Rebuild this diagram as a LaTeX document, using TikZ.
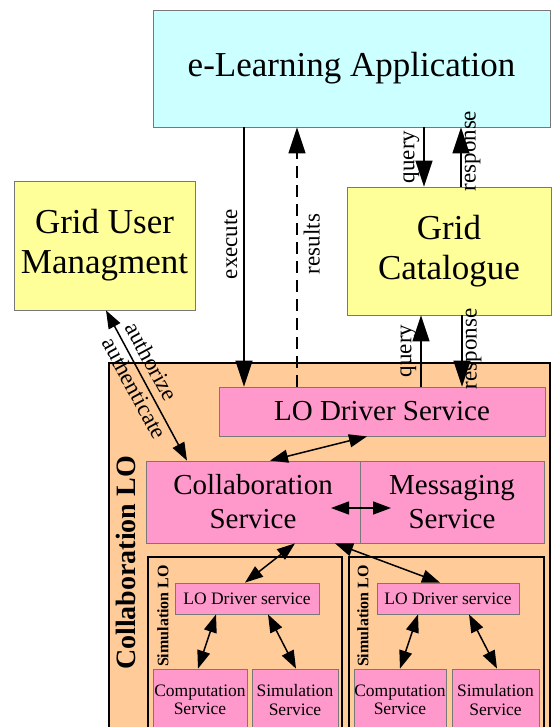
\documentclass[tikz,border=0pt]{standalone}
\usepackage{fontspec}
\setmainfont{Liberation Serif}
\usetikzlibrary{arrows.meta}
\definecolor{appc}{RGB}{204,255,255}
\definecolor{yelc}{RGB}{255,255,153}
\definecolor{orac}{RGB}{255,204,153}
\definecolor{pinc}{RGB}{255,153,204}
\definecolor{boxgray}{RGB}{120,120,120}
\begin{document}
\begin{tikzpicture}[x=1pt,y=-1pt,
  box/.style={draw=boxgray, line width=0.8pt, inner sep=0pt, align=center},
  big/.style={font=\fontsize{35}{40}\selectfont},
  mid/.style={font=\fontsize{29}{34}\selectfont},
  small/.style={font=\fontsize{17.5}{18.5}\selectfont},
  lbl/.style={font=\fontsize{23}{26}\selectfont, inner sep=4pt},
  cont/.style={draw=black, line width=2pt, fill=orac, inner sep=0pt},
  arr/.style={line width=1.5pt, -{Triangle[length=26pt,width=17pt]}},
  darr/.style={line width=1.5pt, {Triangle[length=18pt,width=13pt]}-{Triangle[length=18pt,width=13pt]}}]
\path[use as bounding box] (0,0) rectangle (552,727);
\clip (0,0) rectangle (552,727);

% top boxes
\node[box, fill=appc, big, minimum width=397pt, minimum height=117pt] (app) at (351.5,68.5) {e-Learning Application};
\node[box, fill=yelc, big, minimum width=181pt, minimum height=129pt] (gum) at (104.5,245.5) {Grid User\\Managment};
\node[box, fill=yelc, big, minimum width=204pt, minimum height=128pt] (gcat) at (449,251) {Grid\\Catalogue};

% Collaboration LO container
\node[cont, minimum width=441pt, minimum height=380pt] (clo) at (329.5,553) {};
\node[font=\bfseries\fontsize{28}{30}\selectfont, rotate=90] (clolbl) at (126,563) {Collaboration LO};

\node[box, fill=pinc, mid, minimum width=326pt, minimum height=49pt] (lod) at (382,411.5) {LO Driver Service};
\node[box, fill=pinc, mid, minimum width=214pt, minimum height=82pt] (colsvc) at (253,502) {Collaboration\\Service};
\node[box, fill=pinc, mid, minimum width=184pt, minimum height=82pt] (msg) at (452,502) {Messaging\\Service};

% Simulation LO containers
\node[cont, minimum width=194pt, minimum height=185pt] (simL) at (245,649.5) {};
\node[cont, minimum width=195pt, minimum height=185pt] (simR) at (446.5,649.5) {};
\node[font=\bfseries\fontsize{16}{18}\selectfont, rotate=90] (simLlbl) at (163,616) {Simulation LO};
\node[font=\bfseries\fontsize{16}{18}\selectfont, rotate=90] (simRlbl) at (363,616) {Simulation LO};

\node[box, fill=pinc, small, minimum width=144pt, minimum height=31pt] (lodL) at (247,598.5) {LO Driver service};
\node[box, fill=pinc, small, minimum width=142pt, minimum height=31pt] (lodR) at (448,598.5) {LO Driver service};
\node[box, fill=pinc, small, minimum width=94pt, minimum height=62pt] (compL) at (200,700) {Computation\\Service};
\node[box, fill=pinc, small, minimum width=86pt, minimum height=62pt] (simsL) at (295,700) {Simulation\\Service};
\node[box, fill=pinc, small, minimum width=92pt, minimum height=62pt] (compR) at (400,700) {Computation\\Service};
\node[box, fill=pinc, small, minimum width=87pt, minimum height=62pt] (simsR) at (495.5,700) {Simulation\\Service};

% x positions for connectors
\coordinate (xe) at (244,0);
\coordinate (xr) at (297,0);
\coordinate (xq1) at (424,0);
\coordinate (xr1) at (461,0);
\coordinate (xq2) at (421,0);
\coordinate (xr2) at (462,0);
\coordinate (au1) at (106,0);
\coordinate (au2) at (187,0);
\coordinate (l1) at (367,0);
\coordinate (l2) at (270,0);
\coordinate (m1) at (331,0);
\coordinate (m2) at (391,0);
\coordinate (myy) at (0,508);
\coordinate (c1) at (295,0);
\coordinate (c2) at (245,0);
\coordinate (c3) at (335,0);
\coordinate (c4) at (440,0);
\coordinate (d1) at (216,0);
\coordinate (d2) at (198,0);
\coordinate (d3) at (268,0);
\coordinate (d4) at (296,0);
\coordinate (e1) at (418,0);
\coordinate (e2) at (400,0);
\coordinate (e3) at (469,0);
\coordinate (e4) at (497,0);

% main vertical connectors
\draw[arr] (app.south -| xe) -- node[lbl, rotate=90, above, pos=0.45, inner sep=6pt] {execute} (lod.north -| xe);
\draw[arr, dash pattern=on 12pt off 7pt] (lod.north -| xr) -- node[lbl, rotate=90, below, pos=0.55, inner sep=6pt] {results} (app.south -| xr);
\draw[arr] (app.south -| xq1) -- node[lbl, rotate=90, above, pos=0.5] {query} (gcat.north -| xq1);
\draw[arr] (gcat.north -| xr1) -- node[lbl, rotate=90, below, pos=0.6, inner sep=3pt] {response} (app.south -| xr1);
\draw[arr] (lod.north -| xq2) -- node[lbl, rotate=90, above, pos=0.5] {query} (gcat.south -| xq2);
\draw[arr] (gcat.south -| xr2) -- node[lbl, rotate=90, below, pos=0.47, inner sep=3pt] {response} (lod.north -| xr2);

% authorize / authenticate
\draw[darr] (gum.south -| au1) --
  node[lbl, sloped, above, pos=0.39, inner sep=7pt] {authorize}
  node[lbl, sloped, below, pos=0.48, inner sep=3pt] {authenticate}
  (colsvc.north -| au2);

% service connectors
\draw[darr] (lod.south -| l1) -- (colsvc.north -| l2);
\draw[darr] (myy -| m1) -- (myy -| m2);
\draw[darr] (colsvc.south -| c1) -- (lodL.north -| c2);
\draw[darr] (colsvc.south -| c3) -- (lodR.north -| c4);
\draw[darr] (lodL.south -| d1) -- (compL.north -| d2);
\draw[darr] (lodL.south -| d3) -- (simsL.north -| d4);
\draw[darr] (lodR.south -| e1) -- (compR.north -| e2);
\draw[darr] (lodR.south -| e3) -- (simsR.north -| e4);
\end{tikzpicture}
\end{document}
